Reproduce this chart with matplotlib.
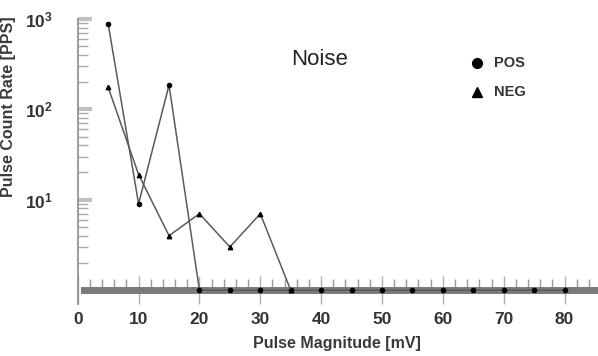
import matplotlib
matplotlib.use("Agg")
import matplotlib.pyplot as plt
from matplotlib.ticker import MultipleLocator, LogLocator, NullFormatter

plt.rcParams['font.family'] = ['Liberation Sans', 'DejaVu Sans']
plt.rcParams['mathtext.fontset'] = 'custom'
plt.rcParams['mathtext.rm'] = 'Liberation Sans'
plt.rcParams['mathtext.bf'] = 'Liberation Sans:bold'

pos_x = [5, 10, 15, 20, 25, 30, 35, 40, 45, 50, 55, 60, 65, 70, 75, 80]
pos_y = [880, 9, 185, 1, 1, 1, 1, 1, 1, 1, 1, 1, 1, 1, 1, 1]
neg_x = [5, 10, 15, 20, 25, 30, 35]
neg_y = [175, 19, 4, 7, 3, 7, 1]

xticks = [0, 10, 20, 30, 40, 50, 60, 70, 80]
yticks = [10, 100, 1000]
ytick_labels = [r'$\mathbf{10^1}$', r'$\mathbf{10^2}$', r'$\mathbf{10^3}$']

fig = plt.figure(figsize=(5.98, 3.56), dpi=100)
ax = fig.add_axes([0.130, 0.185, 0.870, 0.762])

line_col = '#5a5a5a'
ax.plot(pos_x, pos_y, color=line_col, lw=1.1, marker='o', ms=3, mfc='black', mec='black', clip_on=False, zorder=3)
ax.plot(neg_x, neg_y, color=line_col, lw=1.1, marker='^', ms=3.2, mfc='black', mec='black', clip_on=False, zorder=3)

ax.set_yscale('log')
ax.set_ylim(1, 1000)
ax.set_xlim(0, 85.5)

ax.set_xticks(xticks)
ax.set_xticklabels([str(v) for v in xticks])
ax.xaxis.set_minor_locator(MultipleLocator(2))
ax.set_yticks(yticks)
ax.set_yticklabels(ytick_labels)
ax.yaxis.set_minor_locator(LogLocator(base=10, subs=range(2, 10)))
ax.yaxis.set_minor_formatter(NullFormatter())

for s in ['top', 'right', 'bottom']:
    ax.spines[s].set_visible(False)
ax.spines['left'].set_color('#8a8a8a')
ax.spines['left'].set_linewidth(1.2)
ax.spines['left'].set_bounds(0.7, 1000)

# thick x-axis band
ax.axhline(1, xmin=0.012, xmax=1.0, color='#7a7a7a', lw=5, zorder=2, clip_on=False)

ax.tick_params(axis='x', which='major', direction='inout', length=20, width=1, color='#b0b0b0',
               labelsize=12.5, labelcolor='#333333', pad=6)
ax.tick_params(axis='x', which='minor', direction='in', length=8, width=1, color='#999999')
ax.tick_params(axis='y', which='major', direction='in', length=10, width=3, color='#c0c0c0',
               labelsize=12.5, labelcolor='#333333', pad=18)
ax.tick_params(axis='y', which='minor', direction='in', length=7, width=1, color='#aaaaaa')
for lab in ax.get_xticklabels():
    lab.set_fontweight('bold')

ax.set_xlabel('Pulse Magnitude [mV]', fontsize=11.5, fontweight='bold', color='#3a3a3a', va='center')
ax.xaxis.set_label_coords(0.498, -0.196)
ax.set_ylabel('Pulse Count Rate [PPS]', fontsize=11.5, fontweight='bold', color='#3a3a3a')
ax.yaxis.set_label_coords(-0.118, 0.675)

ax.text(0.465, 0.849, 'Noise', transform=ax.transAxes, fontsize=16, color='#222222',
        ha='center', va='center')

ax.plot([0.767], [0.838], transform=ax.transAxes, marker='o', ms=7, color='black', ls='none')
ax.text(0.800, 0.838, 'POS', transform=ax.transAxes, fontsize=10.5, fontweight='bold', color='#333333', va='center')
ax.plot([0.767], [0.731], transform=ax.transAxes, marker='^', ms=7, color='black', ls='none')
ax.text(0.800, 0.731, 'NEG', transform=ax.transAxes, fontsize=10.5, fontweight='bold', color='#333333', va='center')

fig.savefig('out.png', dpi=100)
